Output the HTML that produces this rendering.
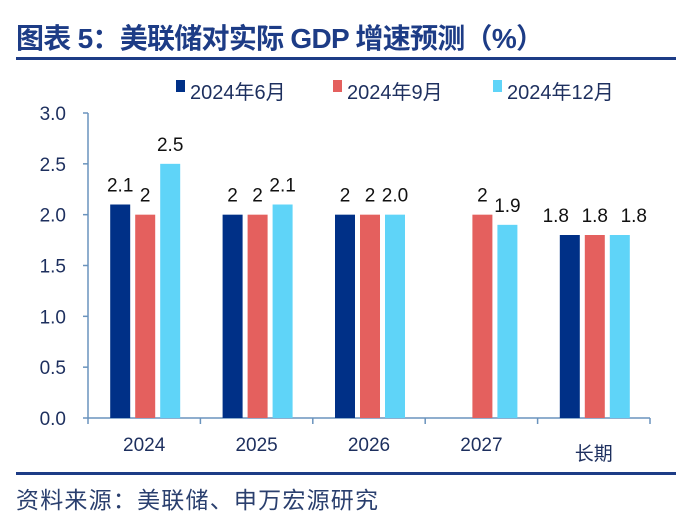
<!DOCTYPE html>
<html><head><meta charset="utf-8"><style>
body{margin:0;background:#fff;width:676px;height:524px;overflow:hidden;font-family:"Liberation Sans","Noto Sans CJK SC",sans-serif}
</style></head><body>
<svg width="676" height="524" xmlns="http://www.w3.org/2000/svg">
<text x="16" y="48" font-size="28" font-weight="bold" fill="#1d3c86" textLength="528" font-family="Liberation Sans,Noto Sans CJK SC,sans-serif">图表 5：美联储对实际 GDP 增速预测（%）</text>
<rect x="16" y="57" width="660" height="3" fill="#1d3c86"/>
<g id="legend"></g>
<g id="axes"></g>
<g id="bars"></g>
<rect x="16" y="472" width="660" height="3" fill="#1d3c86"/>
<text x="16" y="508" font-size="23" fill="#2a3f6e" textLength="362">资料来源：美联储、申万宏源研究</text>
</svg>
<script>
const categories=["2024","2025","2026","2027","长期"];
const seriesNames=["2024年6月","2024年9月","2024年12月"];
const jun=[2.1,2.0,2.0,null,1.8];
const sep=[2.0,2.0,2.0,2.0,1.8];
const dec=[2.5,2.1,2.0,1.9,1.8];
const junLabels=["2.1","2","2",null,"1.8"];
const sepLabels=["2","2","2","2","1.8"];
const decLabels=["2.5","2.1","2.0","1.9","1.8"];
const yTicks=[0,0.5,1.0,1.5,2.0,2.5,3.0];
const NS="http://www.w3.org/2000/svg";
const colors=["#003087","#e4605e","#5fd4f8"];
const x0=88,x1=650,y0=418,yTop=113,yMax=3;
const yScale=v=>y0-(v/yMax)*(y0-yTop);
const bw=(x1-x0)/categories.length;
const xCenter=i=>x0+bw*(i+0.5);
function mk(tag,attrs,parent){const e=document.createElementNS(NS,tag);for(const k in attrs)e.setAttribute(k,attrs[k]);parent.appendChild(e);return e;}
const axes=document.getElementById('axes');
let l=mk('line',{x1:x0,y1:yTop,x2:x0,y2:y0,stroke:'#6a93bd','stroke-width':1.5},axes);


l=mk('line',{x1:x0,y1:y0,x2:x1,y2:y0,stroke:'#6a93bd','stroke-width':1.5},axes);


yTicks.forEach(v=>{const y=yScale(v);
 const t=mk('line',{x1:x0-5,y1:y,x2:x0,y2:y,stroke:'#6a93bd','stroke-width':1.5},axes);
 
 
 const tx=mk('text',{x:66,y:y+7,'font-size':19,fill:'#1d2f5e','text-anchor':'end'},axes);
 tx.textContent=v.toFixed(1);
 
 });
for(let i=0;i<=categories.length;i++){const x=x0+bw*i;
 const t=mk('line',{x1:x,y1:y0,x2:x,y2:y0+6,stroke:'#6a93bd','stroke-width':1.5},axes);
 
 }
categories.forEach((c,i)=>{const tx=mk('text',{x:xCenter(i),y:i==4?460:451,'font-size':19,fill:'#1d2f5e','text-anchor':'middle'},axes);
 tx.textContent=c;
 
 });
const bars=document.getElementById('bars');
const series=[jun,sep,dec],labels=[junLabels,sepLabels,decLabels],offs=[-24,1,26],w=20;
series.forEach((s,si)=>s.forEach((v,i)=>{if(v==null)return;
 const x=xCenter(i)+offs[si]-w/2,y=yScale(v);
 const r=mk('rect',{x:x,y:y,width:w,height:y0-y,fill:colors[si]},bars);
 
 
 const spread=(i==categories.length-1)?(si-1)*14:0;
 const t=mk('text',{x:x+w/2+spread,y:y-13,'font-size':19,fill:'#111','text-anchor':'middle'},bars);
 t.textContent=labels[si][i];
 
 }));
const lg=document.getElementById('legend');const lx=[176,333,493];
seriesNames.forEach((n,i)=>{const r=mk('rect',{x:lx[i],y:80,width:9,height:12,fill:colors[i]},lg);
 
 
 const t=mk('text',{x:lx[i]+14,y:99,'font-size':20,fill:'#1d2f5e'},lg);
 t.textContent=n;
 
 });
</script>
</body></html>
